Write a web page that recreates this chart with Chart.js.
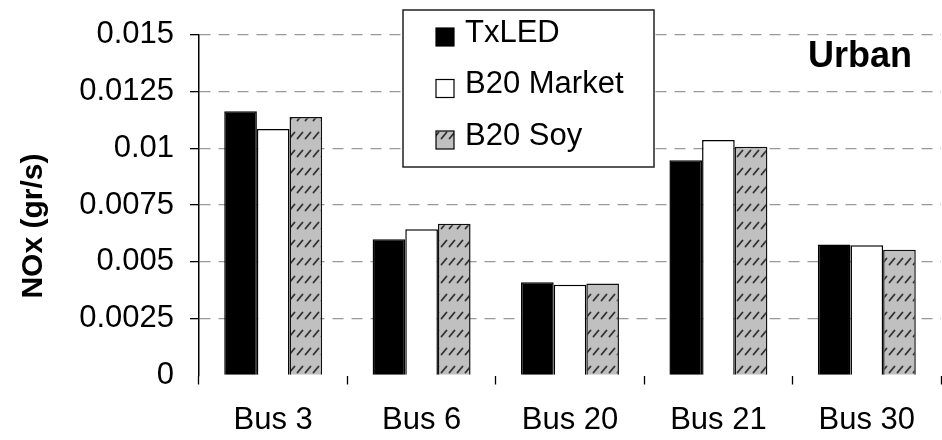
<!DOCTYPE html>
<html>
<head>
<meta charset="utf-8">
<title>NOx - Urban</title>
<script src="https://cdn.jsdelivr.net/npm/chart.js@4.4.0/dist/chart.umd.min.js"></script>
<style>
    html, body { margin: 0; padding: 0; background: #fff; }
    #wrap { width: 942px; height: 440px; }
</style>
</head>
<body>
<div id="wrap"><canvas id="noxChart"></canvas></div>
<script>
// values (gr/s)
const buses = ['Bus 3', 'Bus 6', 'Bus 20', 'Bus 21', 'Bus 30'];
const txled = [0.01163, 0.00599, 0.00410, 0.00947, 0.00576];
const b20Market = [0.01085, 0.00643, 0.00399, 0.01036, 0.00573];
const b20Soy = [0.01137, 0.00668, 0.00405, 0.01007, 0.00553];
const yTickLabels = ['0', '0.0025', '0.005', '0.0075', '0.01', '0.0125', '0.015'];
const yTitle = 'NOx (gr/s)';
const cycleName = 'Urban';

const FONT = '"Liberation Sans", Arial, sans-serif';

// grey fill with small "/" strokes, like the excel pattern
function makeHatch() {
    const tile = document.createElement('canvas');
    tile.width = 8;
    tile.height = 18;
    const c = tile.getContext('2d');
    c.fillStyle = '#c0c0c0';
    c.fillRect(0, 0, 8, 18);
    c.strokeStyle = '#333';
    c.lineWidth = 1.9;
    c.lineCap = 'round';
    c.beginPath();
    c.moveTo(1.5, 12.5);
    c.lineTo(6.5, 6.5);
    c.stroke();
    return c.createPattern(tile, 'repeat');
}
const hatch = makeHatch();

// legend box inside the plot, the "Urban" tag and the y title
const boxLegend = {
    id: 'boxLegend',
    afterDatasetsDraw(chart) {
        const { ctx, chartArea } = chart;
        const x = chartArea.left + 204, y = 10, w = 251, h = 157;
        ctx.save();
        ctx.fillStyle = '#fff';
        ctx.fillRect(x, y, w, h);
        ctx.strokeStyle = '#222';
        ctx.lineWidth = 1.5;
        ctx.strokeRect(x, y, w, h);

        ctx.font = '31px ' + FONT;
        ctx.textBaseline = 'middle';
        ctx.textAlign = 'left';
        chart.data.datasets.forEach((ds, i) => {
            const cy = y + 23 + i * 51.5;
            ctx.fillStyle = ds.backgroundColor;
            ctx.fillRect(x + 33, cy - 5, 18, 18);
            ctx.lineWidth = 1.2;
            ctx.strokeStyle = '#000';
            ctx.strokeRect(x + 33, cy - 5, 18, 18);
            ctx.fillStyle = '#000';
            ctx.fillText(ds.label, x + 62, cy);
        });

        ctx.font = 'bold 36px ' + FONT;
        ctx.textAlign = 'center';
        ctx.textBaseline = 'alphabetic';
        ctx.fillText(cycleName, chartArea.right - 81, 67);

        // excel centres the axis title a bit lower than the plot middle
        ctx.font = 'bold 30px ' + FONT;
        ctx.textBaseline = 'middle';
        ctx.translate(34, (chartArea.top + chartArea.bottom) / 2 + 21);
        ctx.rotate(-Math.PI / 2);
        ctx.fillText(yTitle, 0, 0);
        ctx.restore();
    }
};

const ctx = document.getElementById('noxChart').getContext('2d');
new Chart(ctx, {
    type: 'bar',
    data: {
        labels: buses,
        datasets: [
            { label: 'TxLED', data: txled, backgroundColor: '#000', borderColor: '#000', borderWidth: 1.5 },
            { label: 'B20 Market', data: b20Market, backgroundColor: '#fff', borderColor: '#000', borderWidth: 1.5 },
            { label: 'B20 Soy', data: b20Soy, backgroundColor: hatch, borderColor: '#111', borderWidth: 1.5 }
        ]
    },
    options: {
        responsive: true,
        maintainAspectRatio: false,
        animation: false,
        layout: { padding: { top: 33, right: 1, left: 0, bottom: 0 } },
        datasets: { bar: { categoryPercentage: 0.66, barPercentage: 1.0 } },
        plugins: {
            legend: { display: false },
            tooltip: { enabled: false }
        },
        scales: {
            x: {
                grid: {
                    drawOnChartArea: false,
                    drawTicks: true,
                    tickLength: 9,
                    tickColor: '#000',
                    tickWidth: 1.3
                },
                border: { display: false },
                ticks: { color: '#000', padding: 17, font: { family: FONT, size: 31 } },
                afterFit(scale) { scale.height = 64.5; }
            },
            y: {
                min: 0,
                max: 0.015,
                ticks: {
                    stepSize: 0.0025,
                    color: '#000',
                    padding: 16,
                    font: { family: FONT, size: 31 },
                    callback: (v, i) => yTickLabels[i]
                },
                grid: {
                    color: c => c.tick && c.tick.value === 0 ? 'rgba(0,0,0,0)' : '#999',
                    lineWidth: 1.3,
                    tickLength: 9,
                    tickColor: c => c.tick && c.tick.value === 0 ? 'rgba(0,0,0,0)' : '#000',
                    tickWidth: 1.3
                },
                border: { display: true, color: '#000', width: 1.5, dash: [11, 8] },
                afterFit(scale) { scale.width = 199; }
            }
        }
    },
    plugins: [boxLegend]
});
</script>
</body>
</html>
